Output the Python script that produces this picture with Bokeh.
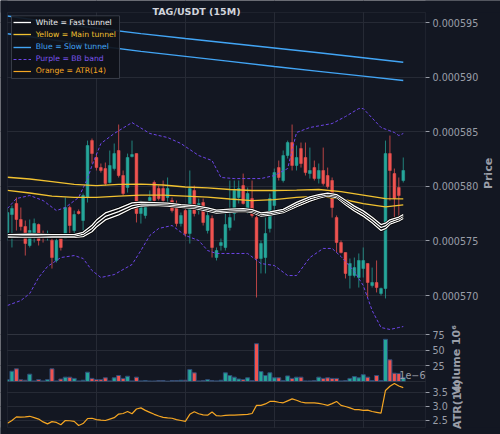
from math import pi
import numpy as np
from bokeh.plotting import figure
from bokeh.models import (Range1d, FixedTicker, Grid, Label, Legend, LegendItem,
                          BoxAnnotation, ColumnDataSource, CustomJSTickFormatter)
from bokeh.embed import file_html
from bokeh.resources import INLINE

# ---------------- data (prices in units of 1e-6 USDT, 15-minute candles) ----------------
candle_idx = list(range(90))
open_u = [575.77, 577.42, 578.43, 576.96, 576.32, 574.58, 575.68, 576.50, 575.68, 575.40,
          575.04, 573.21, 575.31, 575.22, 578.06, 575.95, 577.69, 576.87, 578.98, 584.19,
          582.64, 581.72, 581.63, 580.35, 581.63, 583.28, 580.99, 579.89, 582.73, 583.00,
          577.51, 577.33, 578.70, 580.35, 579.80, 579.80, 578.98, 578.70, 578.24, 576.59,
          577.78, 575.68, 579.62, 577.78, 578.52, 575.95, 577.05, 573.48, 574.58, 574.40,
          576.23, 577.51, 578.98, 580.07, 577.78, 578.88, 577.14, 573.39, 573.48, 576.14,
          578.24, 581.72, 580.53, 582.82, 584.01, 581.91, 583.46, 582.64, 581.17, 581.72,
          580.71, 581.45, 580.99, 580.53, 577.14, 574.85, 573.94, 571.83, 571.83, 571.65,
          572.47, 572.93, 570.92, 571.19, 570.18, 570.64, 583.00, 581.17, 579.89, 580.53]
high_u = [578.06, 578.24, 578.98, 578.06, 576.87, 576.96, 577.05, 576.59, 575.95, 575.95,
          575.50, 575.31, 575.68, 578.98, 578.24, 577.78, 577.88, 579.34, 584.19, 584.38,
          583.00, 582.09, 582.18, 583.28, 583.92, 585.66, 581.45, 583.00, 584.19, 583.00,
          578.70, 578.24, 579.62, 580.53, 580.07, 580.53, 580.81, 578.98, 578.70, 577.60,
          578.24, 581.45, 580.07, 578.88, 578.88, 577.78, 577.33, 574.40, 575.22, 577.51,
          580.53, 580.53, 580.53, 581.17, 579.89, 580.53, 577.60, 575.04, 577.14, 579.34,
          581.63, 582.36, 583.28, 584.19, 585.66, 583.74, 584.01, 584.01, 583.55, 582.36,
          582.09, 583.55, 581.72, 580.81, 577.33, 575.04, 573.94, 573.39, 573.48, 573.85,
          574.40, 572.93, 572.56, 573.21, 570.73, 584.19, 584.65, 581.63, 580.81, 582.64]
low_u = [575.04, 574.40, 575.95, 575.95, 573.66, 574.40, 574.85, 574.58, 574.85, 575.04,
         572.47, 573.02, 574.12, 575.22, 575.68, 575.68, 577.42, 575.95, 578.52, 582.09,
         581.45, 581.26, 580.07, 580.26, 581.45, 580.81, 579.16, 579.43, 582.64, 576.69,
         576.59, 577.05, 578.43, 578.52, 578.70, 578.43, 578.43, 577.60, 576.32, 576.32,
         575.40, 574.76, 577.24, 577.42, 576.41, 575.68, 573.48, 573.21, 574.12, 574.12,
         575.95, 576.87, 578.43, 578.33, 577.51, 577.14, 569.82, 572.02, 572.02, 575.77,
         577.51, 580.53, 580.35, 582.55, 581.45, 581.45, 581.72, 580.99, 580.71, 580.53,
         580.26, 580.07, 579.80, 577.14, 573.94, 573.85, 571.56, 570.64, 571.65, 570.73,
         571.65, 569.82, 570.73, 570.28, 570.00, 569.73, 578.70, 577.14, 577.05, 580.35]
close_u = [577.60, 577.97, 576.96, 576.32, 574.76, 575.95, 576.59, 575.04, 575.31, 575.68,
           573.48, 575.04, 574.40, 578.06, 576.41, 577.42, 577.51, 579.16, 583.74, 583.00,
           581.72, 581.45, 580.26, 581.91, 583.00, 580.99, 579.34, 582.64, 582.91, 577.51,
           578.06, 578.06, 578.98, 578.70, 578.88, 578.70, 579.80, 577.78, 576.59, 577.33,
           575.68, 579.80, 577.51, 578.43, 576.69, 577.33, 574.40, 574.12, 574.85, 576.50,
           577.14, 579.62, 579.80, 578.43, 579.34, 577.33, 573.39, 574.76, 575.68, 578.88,
           581.26, 580.81, 582.82, 584.01, 581.91, 582.64, 582.09, 581.26, 581.45, 580.71,
           581.45, 580.26, 579.98, 578.06, 574.85, 573.94, 572.02, 572.93, 572.56, 573.21,
           573.21, 571.19, 571.19, 570.73, 570.64, 583.00, 581.45, 578.88, 579.16, 581.45]
# volume in millions (axis multiplier 10^6)
volume_m = [3, 16.6, 20.5, 2.7, 2, 11.8, 1, 3, 1, 3,
            20.5, 1, 4, 7, 7, 5, 1, 2, 15, 5,
            3, 3, 6, 1, 6, 9.7, 5, 8.5, 1, 7,
            1, 1.5, 0.8, 0.8, 1.5, 1.5, 0.5, 1.5, 1.5, 2,
            2, 19.4, 14, 1, 1.5, 3, 1.5, 1, 2, 14,
            9.7, 7, 4, 3, 6, 1.5, 61, 16, 9.7, 14,
            6, 6, 1.5, 9, 5, 7, 7, 1, 1, 1.5,
            7, 5, 6, 5, 5, 1, 1.5, 5, 8, 6,
            11, 7, 1.5, 9.7, 1.5, 68, 35, 13.4, 13, 6.5]
# ATR(14) in units of 1e-6
atr_u = [2.40, 2.50, 2.63, 2.62, 2.63, 2.65, 2.60, 2.55, 2.45, 2.38,
         2.46, 2.43, 2.35, 2.50, 2.49, 2.47, 2.32, 2.39, 2.57, 2.58,
         2.53, 2.51, 2.50, 2.55, 2.60, 2.73, 2.75, 2.82, 2.74, 2.91,
         2.95, 2.86, 2.79, 2.72, 2.66, 2.61, 2.59, 2.58, 2.53, 2.50,
         2.47, 2.72, 2.81, 2.74, 2.70, 2.69, 2.80, 2.67, 2.66, 2.68,
         2.69, 2.69, 2.70, 2.71, 2.72, 2.75, 3.04, 3.04, 3.09, 3.18,
         3.18, 3.15, 3.13, 3.20, 3.27, 3.22, 3.16, 3.13, 3.13, 3.13,
         3.11, 3.08, 3.04, 3.10, 3.18, 3.04, 3.00, 2.95, 2.89, 2.89,
         2.86, 2.87, 2.82, 2.79, 2.76, 3.57, 3.72, 3.82, 3.73, 3.67]

# main tunnel (yellow)
main_x = [0, 5, 10, 15, 20, 25, 30, 35, 40, 45, 50, 55, 60, 65, 70, 75, 80, 85, 89]
main_up = [580.83, 580.67, 580.44, 580.17, 580.07, 580.17, 580.21, 580.12, 579.94, 579.85,
           579.71, 579.62, 579.62, 579.66, 579.71, 579.52, 579.20, 578.88, 578.86]
main_dn = [579.62, 579.39, 579.11, 578.98, 578.98, 579.11, 579.20, 579.20, 579.11, 579.02,
           578.84, 578.70, 578.79, 578.98, 579.11, 578.84, 578.42, 578.11, 578.31]
# slow tunnel (blue)
slow_x = [0, 10, 20, 30, 40, 50, 60, 70, 80, 89]
slow_up = [595.60, 595.02, 594.48, 593.99, 593.54, 593.11, 592.67, 592.23, 591.77, 591.37]
slow_dn = [593.97, 593.42, 592.87, 592.36, 591.90, 591.44, 590.98, 590.53, 590.09, 589.69]
# fast tunnel (white, three lines)
fast_x = [0, 5, 10, 15, 17, 19, 20, 22, 25, 28, 30, 33, 36, 39, 42, 45, 47, 50, 53, 55,
          57, 59, 62, 65, 68, 70, 72, 74, 76, 78, 80, 82, 84, 85, 86, 88, 89]
fast_a = [575.58, 575.63, 575.58, 575.58, 575.79, 576.44, 576.91, 577.56, 577.99, 578.49,
          578.56, 578.51, 578.46, 578.33, 578.24, 578.02, 577.83, 577.91, 577.96, 577.87,
          577.56, 577.65, 577.89, 578.53, 579.04, 579.23, 579.38, 579.25, 578.72, 578.19,
          577.75, 577.16, 576.50, 576.62, 576.93, 577.19, 577.41]
fast_b = [575.45, 575.50, 575.45, 575.45, 575.59, 576.14, 576.59, 577.24, 577.69, 578.24,
          578.38, 578.38, 578.33, 578.20, 578.11, 577.88, 577.69, 577.78, 577.83, 577.74,
          577.42, 577.51, 577.74, 578.33, 578.84, 579.07, 579.25, 579.11, 578.52, 577.97,
          577.51, 576.91, 576.23, 576.37, 576.73, 577.01, 577.24]
fast_c = [575.32, 575.37, 575.32, 575.32, 575.39, 575.84, 576.27, 576.92, 577.39, 577.99,
          578.20, 578.25, 578.20, 578.07, 577.98, 577.74, 577.55, 577.65, 577.70, 577.61,
          577.28, 577.37, 577.59, 578.13, 578.64, 578.91, 579.12, 578.97, 578.32, 577.75,
          577.27, 576.66, 575.96, 576.12, 576.53, 576.83, 577.07]
# Bollinger bands (purple)
bb_up_x = [0, 2, 5, 8, 11, 13, 16, 18, 19, 21, 24, 28, 32, 36, 39, 43, 46, 48, 51, 57,
           60, 63, 64, 65, 68, 73, 76, 79, 80, 84, 87, 88, 89]
bb_up = [577.97, 578.88, 579.16, 578.70, 577.78, 578.06, 578.98, 580.71, 581.91, 583.92,
         584.84, 585.84, 584.84, 584.47, 583.92, 582.82, 582.36, 580.81, 580.71, 580.71,
         580.99, 581.63, 583.28, 584.93, 585.39, 585.75, 586.39, 587.12, 587.12, 585.39,
         584.93, 584.65, 584.84]
bb_dn_x = [0, 3, 5, 7, 9, 12, 15, 17, 19, 21, 24, 28, 30, 32, 34, 37, 40, 43, 45, 47,
           54, 57, 60, 63, 65, 68, 71, 73, 75, 78, 80, 82, 84, 86, 88, 89]
bb_dn = [569.09, 569.54, 570.18, 571.65, 572.66, 573.48, 573.66, 573.39, 572.29, 571.65,
         571.92, 572.84, 574.12, 575.50, 576.14, 576.41, 575.50, 575.04, 574.12, 573.85,
         573.85, 572.93, 572.75, 571.83, 571.83, 573.48, 574.31, 574.31, 573.57, 572.20,
         570.92, 568.63, 567.07, 566.89, 567.07, 567.16]

price_ticks = [570, 575, 580, 585, 590, 595]
price_tick_labels = ["0.000570", "0.000575", "0.000580", "0.000585", "0.000590", "0.000595"]
vol_ticks = [25, 50, 75]
vol_tick_labels = ["25", "50", "75"]
atr_ticks = [2.5, 3.0, 3.5]
atr_tick_labels = ["2.5", "3.0", "3.5"]
x_grid_ticks = [20, 40, 60, 80]

# ---------------- layout (canvas pixels) ----------------
W, H = 500, 434
PLOT_L, PLOT_R = 7, 425                 # data area left / right edge
Y_TOP, Y_MAIN, Y_VOL, Y_ATR = 12, 334, 381, 427   # panel edges (top of main, bottoms of panels)
price_lim = (566.43, 595.92)
vol_lim = (0.0, 75.8)
atr_lim = (2.25, 3.89)
X_LIM = (0, 94)


def canvas_range(lo, hi, px_lo, px_hi, extent, flip):
    """range over the whole canvas when lo sits at px_lo and hi at px_hi"""
    per = (hi - lo) / (px_hi - px_lo) if not flip else (hi - lo) / (px_lo - px_hi)
    if flip:   # vertical: canvas y grows downwards
        return lo - (extent - px_lo) * per, hi + px_hi * per
    return lo - px_lo * per, hi + (extent - px_hi) * per


x_rng = canvas_range(*X_LIM, PLOT_L, PLOT_R, W, False)
price_rng = canvas_range(*price_lim, Y_MAIN, Y_TOP, H, True)
vol_rng = canvas_range(*vol_lim, Y_VOL, Y_MAIN, H, True)
atr_rng = canvas_range(*atr_lim, Y_ATR, Y_VOL, H, True)


def to_main(v, rng):
    f = (v - rng[0]) / (rng[1] - rng[0])
    return price_rng[0] + f * (price_rng[1] - price_rng[0])


BG = "#131722"
FRAME_C = "#3b3f4a"
GRID_C = "#262a35"
TXT_C = "#9a9ea8"
GREEN, RED = "#26a69a", "#ef5350"
WHITE, YELLOW, BLUE, PURPLE, ORANGE = "#ffffff", "#f2c230", "#42a5f5", "#6d45e8", "#f5a623"
FONT = "DejaVu Sans"

p = figure(width=W, height=H, x_range=Range1d(*x_rng), y_range=Range1d(*price_rng),
           y_axis_location="right", x_axis_location=None, toolbar_location=None,
           output_backend="svg", tools="", min_border=0,
           background_fill_color=BG, border_fill_color=BG, outline_line_color=None)
p.extra_y_ranges = {"vol": Range1d(*vol_rng), "atr": Range1d(*atr_rng)}
p.grid.visible = False


def sbox(x0, x1, y0, y1, **kw):
    """box in canvas pixels (frame == canvas; screen y counts from the bottom)"""
    return BoxAnnotation(left=x0, right=x1, top=H - y0, bottom=H - y1,
                         left_units="screen", right_units="screen",
                         top_units="screen", bottom_units="screen", **kw)


all_pos = ([float(v) for v in price_ticks] + [to_main(v, vol_rng) for v in vol_ticks]
           + [to_main(v, atr_rng) for v in atr_ticks])
all_lab = price_tick_labels + vol_tick_labels + atr_tick_labels

p.add_layout(Grid(dimension=0, ticker=FixedTicker(ticks=x_grid_ticks),
                  grid_line_color=GRID_C, grid_line_width=1))
p.add_layout(Grid(dimension=1, ticker=FixedTicker(ticks=all_pos),
                  grid_line_color=GRID_C, grid_line_width=1))
# keep grid lines inside the data area
for box in (sbox(PLOT_R, W, 0, H), sbox(0, W, 0, Y_TOP), sbox(0, W, Y_ATR, H)):
    box.update(fill_color=BG, fill_alpha=1, line_alpha=0, level="underlay")
    p.add_layout(box)

ax = p.yaxis[0]
ax.fixed_location = X_LIM[1]
ax.ticker = FixedTicker(ticks=all_pos)
ax.formatter = CustomJSTickFormatter(args=dict(pos=all_pos, lab=all_lab), code="""
let best = 0, bd = Infinity;
for (let i = 0; i < pos.length; i++) { const d = Math.abs(pos[i] - tick); if (d < bd) { bd = d; best = i; } }
return lab[best];
""")
ax.axis_line_color = None
ax.major_tick_line_color = TXT_C
ax.major_tick_out = 4
ax.major_tick_in = 0
ax.minor_tick_line_color = None
ax.major_label_standoff = 3
ax.major_label_text_color = TXT_C
ax.major_label_text_font = FONT
ax.major_label_text_font_size = "9.6px"

# ---------------- candles ----------------
o = np.array(open_u); c = np.array(close_u)
colors = [GREEN if cc >= oo else RED for oo, cc in zip(open_u, close_u)]
src = ColumnDataSource(dict(x=candle_idx, open=open_u, close=close_u, high=high_u, low=low_u,
                            top=np.maximum(o, c), bottom=np.minimum(o, c), color=colors,
                            vol=volume_m, atr=atr_u))
p.segment(x0="x", y0="low", x1="x", y1="high", source=src, line_color="color",
          line_width=1, line_alpha=0.75)
p.vbar(x="x", width=0.62, top="top", bottom="bottom", source=src,
       fill_color="color", line_color="color", line_width=0.5)

# volume
p.vbar(x="x", width=0.9, top="vol", bottom=0, source=src, y_range_name="vol",
       fill_color="color", line_color="#2f4d78", line_width=1)
# ATR
r_atr = p.line("x", "atr", source=src, y_range_name="atr", line_color=ORANGE, line_width=1.2)

# ---------------- indicator lines ----------------
r_bb = p.line(bb_up_x, bb_up, line_color=PURPLE, line_width=1, line_dash="3 2")
p.line(bb_dn_x, bb_dn, line_color=PURPLE, line_width=1, line_dash="3 2")
r_slow = p.line(slow_x, slow_up, line_color=BLUE, line_width=1.4)
p.line(slow_x, slow_dn, line_color=BLUE, line_width=1.4)
r_main = p.line(main_x, main_up, line_color=YELLOW, line_width=1.3)
p.line(main_x, main_dn, line_color=YELLOW, line_width=1.3)
r_fast = None
for ys in (fast_c, fast_b, fast_a):
    p.line(fast_x, ys, line_color="#000000", line_width=2.6)
    r = p.line(fast_x, ys, line_color=WHITE, line_width=1.3)
    if r_fast is None:
        r_fast = r

# left edge mask (first candle is half outside the axes), then panel frames
p.add_layout(sbox(0, PLOT_L, 0, H, fill_color=BG, fill_alpha=1, line_alpha=0))
for y0, y1 in ((Y_TOP, Y_MAIN), (Y_MAIN, Y_VOL), (Y_VOL, Y_ATR)):
    p.add_layout(sbox(PLOT_L, PLOT_R, y0, y1, fill_alpha=0, line_color=FRAME_C, line_width=1.2))

# ---------------- legend ----------------
p.add_layout(sbox(11, 119, 15.3, 78, fill_color="#0f121a", fill_alpha=0.92,
                  line_color=FRAME_C, line_width=1, line_alpha=0.9))
legend_specs = [("White = Fast tunnel", r_fast, "#f0f0f0"),
                ("Yellow = Main tunnel", r_main, YELLOW),
                ("Blue = Slow tunnel", r_slow, BLUE),
                ("Purple = BB band", r_bb, "#7b55f0"),
                ("Orange = ATR(14)", r_atr, ORANGE)]
ROW0, ROW_STEP, ROW_H = 22.3, 12.1, 12
for k, (txt, rend, col) in enumerate(legend_specs):
    row_bottom = ROW0 + ROW_STEP * k + ROW_H / 2
    leg = Legend(items=[LegendItem(label=txt, renderers=[rend])], location=(12.7, H - row_bottom),
                 label_text_color=col, label_text_font=FONT, label_text_font_size="7.7px",
                 glyph_width=18, glyph_height=ROW_H, label_height=ROW_H, label_standoff=5,
                 padding=0, margin=0, spacing=0, background_fill_alpha=0, border_line_alpha=0)
    p.add_layout(leg)

# ---------------- texts (canvas pixel positions) ----------------
def canvas_label(text, x, y, angle=0.0, size="11px", style="bold", color=TXT_C, align="center"):
    p.add_layout(Label(x=x, y=y, x_units="canvas", y_units="canvas", text=text, angle=angle,
                       text_align=align, text_baseline="middle", text_font=FONT,
                       text_font_size=size, text_font_style=style, text_color=color))


canvas_label("TAG/USDT (15M)", 196, 11, size="9.5px", color="#d1d4dc")
canvas_label("Price", 487.5, 173, angle=pi / 2)
canvas_label("ATR(14)", 457, 404, angle=pi / 2)
canvas_label("Volume  10\u2076", 456, 357.5, angle=pi / 2)
canvas_label("1e\u22126", 425, 374, size="9.6px", style="normal", align="right")

open("out.html", "w").write(file_html(p, INLINE))
